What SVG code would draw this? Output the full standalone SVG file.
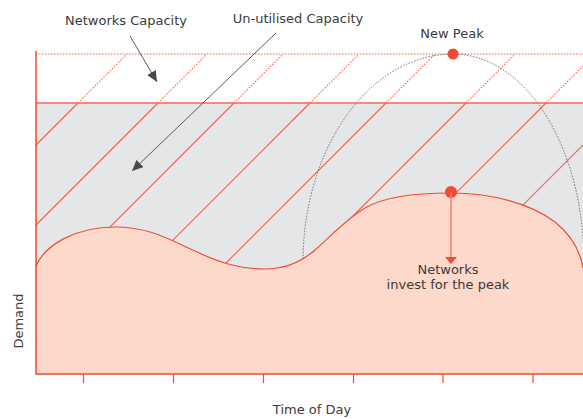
<svg xmlns="http://www.w3.org/2000/svg" width="583" height="419" viewBox="0 0 583 419">
  <style>
    .txt { font-family: "DejaVu Sans", "Liberation Sans", sans-serif; font-size: 13px; fill: #3b3b3b; }
  </style>
  <defs>
    <marker id="grayhead" markerUnits="userSpaceOnUse" markerWidth="12" markerHeight="10" refX="11" refY="5" orient="auto">
      <path d="M0,0 L11,5 L0,10 Z" fill="#4a4a4a"/>
    </marker>
  </defs>

  <rect width="583" height="419" fill="#ffffff"/>

  <g id="unused-capacity">
    <rect x="36" y="103" width="547" height="271" fill="#e5e6e8"/>
  </g>

  <g id="hatching" fill="none">
    <g stroke="#f0604b" stroke-width="1.1">
      <path d="M78,103 L36,145"/>
      <path d="M158,103 L36,225"/>
      <path d="M234,103 L36,301"/>
      <path d="M310,103 L39,374"/>
      <path d="M386,103 L115,374"/>
      <path d="M466,103 L195,374"/>
      <path d="M546,103 L275,374"/>
      <path d="M584,144 L354,374"/>
    </g>
    <g stroke="#f26a57" stroke-width="1.1" stroke-dasharray="1.5 1.5">
      <path d="M78,103 L127,54"/>
      <path d="M158,103 L207,54"/>
      <path d="M234,103 L283,54"/>
      <path d="M310,103 L359,54"/>
      <path d="M386,103 L435,54"/>
      <path d="M466,103 L515,54"/>
      <path d="M546,103 L584,65"/>
    </g>
  </g>

  <g id="new-peak-envelope">
    <path d="M303,262 A150,208 0 0 1 453,54 A131,208 0 0 1 584,262" fill="none" stroke="#6b6b6b" stroke-width="1" stroke-dasharray="1.5 1.5"/>
  </g>

  <g id="capacity-lines">
    <line x1="36" y1="54" x2="583" y2="54" stroke="#f0604b" stroke-width="1" stroke-dasharray="1.5 1.5"/>
    <line x1="36" y1="103" x2="583" y2="103" stroke="#f26a57" stroke-width="1.5"/>
  </g>

  <g id="demand">
    <path d="M36,266 C45,245 75,227 115,227 C150,227 170,240 195,251 C220,263 240,269 265,269 C285,269 300,263 315,250 C330,237 345,220 365,208 C385,196 420,193 451,193 C490,193 530,203 555,222 C570,234 580,250 583,268 L583,374 L36,374 Z" fill="#fcd9ca"/>
    <path d="M36,266 C45,245 75,227 115,227 C150,227 170,240 195,251 C220,263 240,269 265,269 C285,269 300,263 315,250 C330,237 345,220 365,208 C385,196 420,193 451,193 C490,193 530,203 555,222 C570,234 580,250 583,268" fill="none" stroke="#ef4b35" stroke-width="1.2"/>
  </g>

  <g id="axes">
    <path d="M36,51 L36,374 L583,374" stroke="#ef4b35" stroke-width="1.5" fill="none"/>
    <path d="M83.5,374 V383 M173.5,374 V383 M263.5,374 V383 M353.5,374 V383 M443,374 V383 M533,374 V383" stroke="#ef4b35" stroke-width="1.2" fill="none"/>
  </g>

  <g id="peaks">
    <circle cx="453" cy="54" r="5.5" fill="#ef4b35"/>
    <circle cx="451" cy="192" r="6" fill="#ef4b35"/>
    <line x1="451" y1="192" x2="451" y2="258" stroke="#f3806f" stroke-width="1.5"/>
    <path d="M445,257 L457,257 L451,264 Z" fill="#ef4b35"/>
  </g>

  <g id="connectors">
    <line x1="130" y1="36" x2="157" y2="82" stroke="#5a5a5a" stroke-width="1" marker-end="url(#grayhead)"/>
    <line x1="276" y1="33" x2="132" y2="171" stroke="#5a5a5a" stroke-width="1" marker-end="url(#grayhead)"/>
  </g>

  <g id="labels">
    <text class="txt" x="126" y="25" text-anchor="middle">Networks Capacity</text>
    <text class="txt" x="298" y="23" text-anchor="middle">Un-utilised Capacity</text>
    <text class="txt" x="452" y="38" text-anchor="middle">New Peak</text>
    <text class="txt" x="448" y="274" text-anchor="middle">Networks</text>
    <text class="txt" x="448" y="289" text-anchor="middle">invest for the peak</text>
    <text class="txt" x="312" y="414" text-anchor="middle">Time of Day</text>
    <text class="txt" transform="translate(23,321) rotate(-90)" text-anchor="middle">Demand</text>
  </g>
</svg>
